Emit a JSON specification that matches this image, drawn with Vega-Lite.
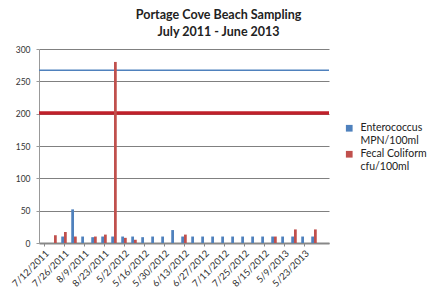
{
  "$schema": "https://vega.github.io/schema/vega-lite/v6.json",
  "width": 290,
  "height": 194,
  "padding": {"left": 10, "top": 8, "right": 5, "bottom": 2},
  "background": "white",
  "config": {
    "view": {"stroke": null},
    "font": "Lato",
    "axisY": {"grid": true, "gridColor": "#808080", "gridWidth": 1, "gridOpacity": 1, "gridDash": []}
  },
  "title": {
    "text": ["Portage Cove Beach Sampling", "July 2011 - June 2013"],
    "font": "Lato",
    "fontSize": 12.5,
    "fontWeight": "bold",
    "color": "#222222",
    "anchor": "middle",
    "frame": "bounds",
    "lineHeight": 17,
    "offset": 7
  },
  "data": {
    "values": [
      {"date": "7/19/2011", "series": "Fecal Coliform cfu/100ml", "value": 12},
      {"date": "7/26/2011", "series": "Enterococcus MPN/100ml", "value": 10},
      {"date": "7/26/2011", "series": "Fecal Coliform cfu/100ml", "value": 17},
      {"date": "8/2/2011", "series": "Enterococcus MPN/100ml", "value": 52},
      {"date": "8/2/2011", "series": "Fecal Coliform cfu/100ml", "value": 10},
      {"date": "8/9/2011", "series": "Enterococcus MPN/100ml", "value": 10},
      {"date": "8/16/2011", "series": "Enterococcus MPN/100ml", "value": 9},
      {"date": "8/16/2011", "series": "Fecal Coliform cfu/100ml", "value": 10},
      {"date": "8/23/2011", "series": "Enterococcus MPN/100ml", "value": 10},
      {"date": "8/23/2011", "series": "Fecal Coliform cfu/100ml", "value": 13},
      {"date": "8/30/2011", "series": "Enterococcus MPN/100ml", "value": 10},
      {"date": "8/30/2011", "series": "Fecal Coliform cfu/100ml", "value": 280},
      {"date": "5/2/2012", "series": "Enterococcus MPN/100ml", "value": 10},
      {"date": "5/2/2012", "series": "Fecal Coliform cfu/100ml", "value": 8},
      {"date": "5/9/2012", "series": "Enterococcus MPN/100ml", "value": 10},
      {"date": "5/9/2012", "series": "Fecal Coliform cfu/100ml", "value": 5},
      {"date": "5/16/2012", "series": "Enterococcus MPN/100ml", "value": 9},
      {"date": "5/23/2012", "series": "Enterococcus MPN/100ml", "value": 10},
      {"date": "5/30/2012", "series": "Enterococcus MPN/100ml", "value": 10},
      {"date": "6/6/2012", "series": "Enterococcus MPN/100ml", "value": 20},
      {"date": "6/13/2012", "series": "Enterococcus MPN/100ml", "value": 10},
      {"date": "6/13/2012", "series": "Fecal Coliform cfu/100ml", "value": 13},
      {"date": "6/20/2012", "series": "Enterococcus MPN/100ml", "value": 10},
      {"date": "6/27/2012", "series": "Enterococcus MPN/100ml", "value": 10},
      {"date": "7/5/2012", "series": "Enterococcus MPN/100ml", "value": 10},
      {"date": "7/11/2012", "series": "Enterococcus MPN/100ml", "value": 10},
      {"date": "7/18/2012", "series": "Enterococcus MPN/100ml", "value": 10},
      {"date": "7/25/2012", "series": "Enterococcus MPN/100ml", "value": 10},
      {"date": "8/8/2012", "series": "Enterococcus MPN/100ml", "value": 10},
      {"date": "8/15/2012", "series": "Enterococcus MPN/100ml", "value": 10},
      {"date": "8/22/2012", "series": "Enterococcus MPN/100ml", "value": 10},
      {"date": "8/22/2012", "series": "Fecal Coliform cfu/100ml", "value": 10},
      {"date": "5/9/2013", "series": "Enterococcus MPN/100ml", "value": 10},
      {"date": "5/16/2013", "series": "Enterococcus MPN/100ml", "value": 10},
      {"date": "5/16/2013", "series": "Fecal Coliform cfu/100ml", "value": 21},
      {"date": "5/23/2013", "series": "Enterococcus MPN/100ml", "value": 10},
      {"date": "5/30/2013", "series": "Enterococcus MPN/100ml", "value": 10},
      {"date": "5/30/2013", "series": "Fecal Coliform cfu/100ml", "value": 21}
    ]
  },
  "encoding": {
    "y": {
      "field": "value",
      "type": "quantitative",
      "scale": {"domain": [0, 300]},
      "axis": {
        "title": null,
        "values": [0, 50, 100, 150, 200, 250, 300],
        "labelOverlap": false,
        "labelFontSize": 8.5,
        "labelColor": "#333333",
        "labelPadding": 6,
        "tickSize": 3,
        "tickColor": "#999999",
        "domainColor": "#999999"
      }
    }
  },
  "layer": [
    {
      "data": {"values": [{"value": 267}]},
      "mark": {"type": "rule", "color": "#4F81BD", "strokeWidth": 1.5}
    },
    {
      "data": {"values": [{"value": 201}]},
      "mark": {"type": "rule", "color": "#C0202A", "strokeWidth": 3.5}
    },
    {
      "mark": {"type": "bar"},
      "encoding": {
        "x": {
          "field": "date",
          "type": "nominal",
          "scale": {
            "domain": ["7/12/2011", "7/19/2011", "7/26/2011", "8/2/2011", "8/9/2011", "8/16/2011", "8/23/2011", "8/30/2011", "5/2/2012", "5/9/2012", "5/16/2012", "5/23/2012", "5/30/2012", "6/6/2012", "6/13/2012", "6/20/2012", "6/27/2012", "7/5/2012", "7/11/2012", "7/18/2012", "7/25/2012", "8/8/2012", "8/15/2012", "8/22/2012", "5/9/2013", "5/16/2013", "5/23/2013", "5/30/2013", "6/6/2013"],
            "paddingInner": 0.45,
            "paddingOuter": 0.225
          },
          "axis": {
            "title": null,
            "values": ["7/12/2011", "7/26/2011", "8/9/2011", "8/23/2011", "5/2/2012", "5/16/2012", "5/30/2012", "6/13/2012", "6/27/2012", "7/11/2012", "7/25/2012", "8/15/2012", "5/9/2013", "5/23/2013"],
            "labelAngle": -45,
            "labelAlign": "right",
            "labelBaseline": "top",
            "labelFontSize": 9.5,
            "labelColor": "#333333",
            "labelPadding": 2,
            "labelOverlap": false,
            "tickSize": 3,
            "tickColor": "#888888",
            "domainColor": "#888888",
            "domainWidth": 2,
            "grid": false
          }
        },
        "xOffset": {"field": "series", "type": "nominal"},
        "color": {
          "field": "series",
          "type": "nominal",
          "scale": {"domain": ["Enterococcus MPN/100ml", "Fecal Coliform cfu/100ml"], "range": ["#4F81BD", "#C0504D"]},
          "legend": {
            "title": null,
            "orient": "none",
            "legendX": 305,
            "legendY": 74,
            "symbolType": "square",
            "symbolSize": 45,
            "symbolStrokeWidth": 0,
            "labelFontSize": 10.5,
            "labelOffset": 6,
            "labelColor": "#222222",
            "labelExpr": "datum.value == 'Enterococcus MPN/100ml' ? ['Enterococcus', 'MPN/100ml'] : ['Fecal Coliform', 'cfu/100ml']",
            "rowPadding": 2
          }
        }
      }
    }
  ]
}
